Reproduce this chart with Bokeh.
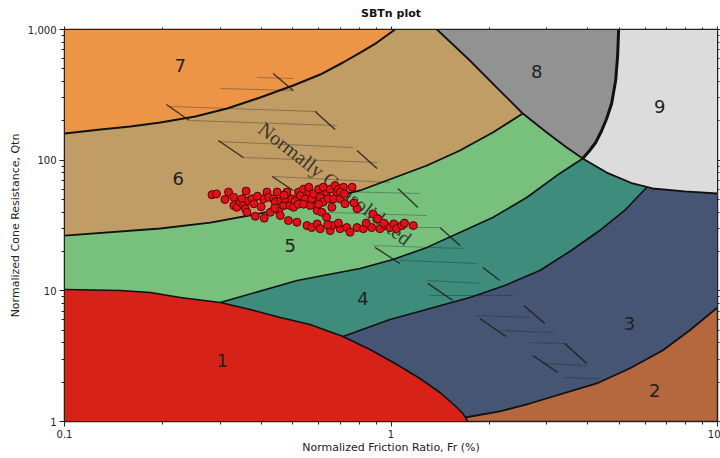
from bokeh.plotting import figure
from bokeh.models import LogAxis, NumeralTickFormatter, FixedTicker, CustomJSTickFormatter
from bokeh.core.properties import value
from bokeh.embed import file_html
from bokeh.resources import INLINE

# ---------------- data ----------------
# zone boundary curves (Fr %, Qtn)
b67_fr = [0.1, 0.129, 0.1591, 0.1966, 0.2515, 0.315, 0.3976, 0.5017, 0.607, 0.713, 0.815, 0.906, 1.029]
b67_q = [160, 171.7, 181, 194, 215.9, 248.6, 301.6, 372.7, 452.3, 559, 678.4, 795, 1000]

b56_fr = [0.1, 0.1966, 0.2796, 0.3976, 0.565, 0.804, 1.289, 1.626, 2.05, 2.533]
b56_q = [26.5, 30.0, 33.3, 39.1, 46.6, 58.6, 91.0, 118.6, 162.8, 227.6]

b68_fr = [1.383, 1.744, 2.109, 2.533]
b68_q = [1000, 579, 359.7, 227.6]

b58_fr = [2.533, 3.0, 3.453, 3.866]
b58_q = [227.6, 162.8, 125, 103]

b89_fr = [4.98, 4.945, 4.876, 4.74, 4.577, 4.42, 4.236, 4.06, 3.866]
b89_q = [1000, 632, 407, 271.4, 208.3, 168.7, 136.5, 118.6, 103]

b9_fr = [3.866, 4.577, 5.498, 6.327, 7.93, 10]
b9_q = [103, 80.4, 66.3, 60.7, 57.6, 55.6]

b45_fr = [0.300, 0.516, 0.804, 1.014, 1.289, 2.05, 2.605, 3.287, 3.866]
b45_q = [8.14, 12.0, 14.83, 17.37, 21.5, 36.4, 51.8, 79.1, 103]

b34_fr = [0.713, 0.993, 1.316, 1.744, 2.232, 2.856, 3.527, 4.356, 5.195, 6.065]
b34_q = [4.47, 6.03, 7.32, 8.89, 10.98, 14.3, 20.0, 28.95, 41.2, 61.8]

b23_fr = [1.684, 2.154, 2.661, 4.266, 5.38, 6.788, 8.21, 10]
b23_q = [1.073, 1.193, 1.373, 1.954, 2.544, 3.494, 4.97, 7.455]

b1_fr = [0.1, 0.1483, 0.1832, 0.2263, 0.300, 0.3704, 0.4577, 0.565, 0.713, 0.8626, 1.043,
         1.227, 1.412, 1.569, 1.66, 1.72]
b1_q = [10.24, 10.06, 9.71, 8.89, 8.14, 7.195, 6.25, 5.525, 4.47, 3.556, 2.731,
        2.134, 1.667, 1.326, 1.151, 1.0]

zone_colors = {
    1: "#d7221a", 2: "#b5673d", 3: "#465574", 4: "#3d8c7c", 5: "#77c17d",
    6: "#c09d65", 7: "#ec9546", 8: "#929292", 9: "#dcdcdc",
}

zone_names = ["1", "2", "3", "4", "5", "6", "7", "8", "9"]
zone_lab_fr = [0.304, 6.42, 5.38, 0.821, 0.491, 0.2232, 0.2263, 2.796, 6.65]
zone_lab_q = [2.93, 1.73, 5.62, 8.74, 22.2, 72.4, 530, 477, 257]

# CPT data points
fr_pts = [0.283, 0.292, 0.318, 0.360, 0.330, 0.337, 0.345, 0.350, 0.354, 0.358,
          0.366, 0.375, 0.380, 0.362, 0.384, 0.409, 0.407, 0.417, 0.422, 0.427,
          0.437, 0.442, 0.448, 0.453, 0.458, 0.460, 0.469, 0.474, 0.480, 0.485,
          0.491, 0.497, 0.503, 0.509, 0.515, 0.521, 0.527, 0.540, 0.546, 0.559,
          0.565, 0.572, 0.580, 0.594, 0.600, 0.607, 0.614, 0.620, 0.635, 0.635,
          0.643, 0.651, 0.659, 0.667, 0.674, 0.682, 0.690, 0.698, 0.715, 0.723,
          0.553, 0.572, 0.594, 0.607, 0.651, 0.659, 0.698, 0.732, 0.749, 0.787,
          0.787, 0.823, 0.873, 0.880, 0.910, 0.925, 0.960, 0.993, 1.020, 1.040,
          1.080, 1.170, 0.520, 0.560, 0.620, 0.700, 0.400, 0.390, 0.310, 0.330,
          0.470, 0.540, 0.440, 0.760, 0.720, 0.690, 0.840, 0.950, 1.100, 0.640,
          0.770, 0.600]
qtn_pts = [54.4, 55.2, 57.0, 58.0, 45.0, 43.6, 47.8, 50.6, 45.0, 42.5,
           49.0, 50.6, 46.4, 39.9, 37.2, 36.0, 50.6, 57.0, 52.0, 39.9,
           50.6, 47.8, 57.0, 41.2, 37.7, 49.0, 45.0, 50.6, 57.0, 34.5,
           45.0, 50.6, 43.6, 49.0, 33.5, 57.0, 53.6, 60.0, 50.6, 57.0,
           45.0, 50.6, 55.3, 41.2, 60.0, 52.0, 39.9, 47.8, 36.5, 57.0,
           50.6, 60.0, 43.6, 50.6, 64.0, 57.0, 60.0, 50.6, 62.0, 46.4,
           31.6, 30.5, 32.5, 29.9, 28.9, 31.6, 29.9, 30.5, 28.1, 30.5,
           42.5, 29.9, 30.5, 38.8, 35.6, 29.9, 31.6, 30.5, 32.5, 29.9,
           31.6, 31.6, 46.0, 62.0, 62.0, 57.0, 44.0, 53.0, 50.0, 52.0,
           54.0, 46.0, 43.0, 62.0, 55.0, 33.0, 33.0, 33.0, 33.0, 32.0,
           47.0, 46.0]

# "Normally consolidated" hatch annotation
hd_x0 = [0.4357, 0.2051, 0.5855, 0.2958, 0.787, 0.4327, 1.050, 1.412, 0.8935, 1.911, 1.297, 1.872, 2.551, 2.719, 3.405]
hd_y0 = [460.5, 266.7, 235.7, 141.4, 118.6, 75.0, 60.7, 30.5, 21.5, 15.1, 11.4, 6.14, 7.72, 3.20, 3.95]
hd_x1 = [0.5017, 0.2412, 0.6742, 0.3527, 0.906, 0.5017, 1.209, 1.626, 1.065, 2.154, 1.547, 2.247, 2.958, 3.241, 3.976]
hd_y1 = [341.3, 201.1, 171.7, 104.8, 86.4, 58.6, 43.4, 22.2, 16.2, 12.0, 8.43, 4.47, 5.62, 2.37, 2.78]

hh_x0 = [0.3893, 0.300, 0.2110, 0.2428, 0.2958, 0.3527, 0.4357, 0.5017, 0.6374, 0.804, 0.881, 1.065, 1.289, 1.316, 1.807, 2.154, 2.661, 2.916, 3.357]
hh_y0 = [429, 353.5, 257.4, 201.1, 138.9, 104.8, 75.0, 58.6, 39.8, 30.5, 22.2, 17.1, 12.0, 9.21, 6.48, 4.97, 4.02, 2.78, 2.17]
hh_x1 = [0.5017, 0.5017, 0.5938, 0.6839, 0.7652, 0.906, 0.993, 1.227, 1.289, 1.412, 1.66, 1.832, 1.872, 2.361, 2.661, 3.13, 3.453, 3.976, 4.356]
hh_y1 = [421.7, 341.3, 235.7, 184.2, 125, 95.96, 67.5, 55.6, 37.7, 30.5, 21.1, 16.2, 11.4, 9.21, 6.25, 4.80, 3.95, 2.68, 2.13]

nc_label = "Normally Consolidated"
nc_fr = [0.674]
nc_q = [66.3]

# axis ticks
x_major = [0.1, 1, 10]
y_major = [1, 10, 100, 1000]
mantissas = [2, 3, 4, 5, 6, 7, 8, 9]

X0, X1 = 0.1, 10
Y0, Y1 = 1, 1000

x_minor = [m * d for d in x_major[:-1] for m in mantissas]
y_minor = [m * d for d in y_major[:-1] for m in mantissas]

# ---------------- figure ----------------
p = figure(width=720, height=458, x_axis_type="log", y_axis_type="log",
           x_range=(X0, X1), y_range=(Y0, Y1),
           output_backend="svg", toolbar_location=None,
           min_border_left=64, min_border_right=2, min_border_top=29, min_border_bottom=37)

p.title.text = "SBTn plot"
p.title.align = "center"
p.title.vertical_align = "top"
p.title.text_font = "DejaVu Sans"
p.title.text_font_size = "11px"
p.title.text_font_style = "bold"
p.title.text_color = "#111111"
p.title.standoff = 9

p.background_fill_color = zone_colors[2]
p.border_fill_color = "white"
p.outline_line_color = "#222222"
p.outline_line_width = 1.5
p.xgrid.visible = False
p.ygrid.visible = False

def patch(xs, ys, color):
    p.patch(xs, ys, fill_color=color, line_color=None)

# zone 3 (everything above 2/3 boundary)
patch([b23_fr[0]] + b23_fr + [X1, X0, X0], [Y0] + b23_q + [Y1, Y1, Y0], zone_colors[3])
# zone 4
patch([X0] + b34_fr + [X1, X1, X0], [Y0] + b34_q + [b34_q[-1], Y1, Y1], zone_colors[4])
# zone 5
patch([X0] + b45_fr + [X1, X1, X0], [Y0] + b45_q + [b45_q[-1], Y1, Y1], zone_colors[5])
# zone 6
top_mid = (b68_fr[0] * b89_fr[0]) ** 0.5
patch(b56_fr + [top_mid, X0], b56_q + [Y1, Y1], zone_colors[6])
# zone 7
patch(b67_fr + [X0], b67_q + [Y1], zone_colors[7])
# zone 8
patch(b68_fr + b58_fr[1:] + b89_fr[::-1][1:], b68_q + b58_q[1:] + b89_q[::-1][1:], zone_colors[8])
# zone 9
patch(b89_fr + b9_fr[1:] + [X1], b89_q + b9_q[1:] + [Y1], zone_colors[9])
# zone 1
patch(b1_fr + [X0], b1_q + [Y0], zone_colors[1])

# hatch annotation
p.segment(hh_x0, hh_y0, hh_x1, hh_y1, line_color="#222222", line_alpha=0.35, line_width=1)
p.segment(hd_x0, hd_y0, hd_x1, hd_y1, line_color="#1a1a1a", line_alpha=0.85, line_width=1.3)
p.text(nc_fr, nc_q, text=[nc_label], angle=-0.66, text_font=value("Liberation Serif"),
       text_font_size="20px", text_align="center", text_baseline="middle",
       text_color="#222222", text_alpha=0.85)

# boundary lines
for bx, by, lw in [(b67_fr, b67_q, 2), (b56_fr, b56_q, 1.8), (b45_fr, b45_q, 1.6),
                   (b34_fr, b34_q, 1.6), (b23_fr, b23_q, 1.8), (b68_fr, b68_q, 1.8),
                   (b58_fr, b58_q, 1.8), (b89_fr, b89_q, 3), (b9_fr, b9_q, 1.8),
                   (b1_fr, b1_q, 1.6)]:
    p.line(bx, by, line_color="#111111", line_width=lw, line_join="round")

# zone numbers
p.text(zone_lab_fr, zone_lab_q, text=zone_names, text_font=value("DejaVu Sans"),
       text_font_size="18px", text_align="center", text_baseline="middle", text_color="#222222")

# data points
p.scatter(fr_pts, qtn_pts, size=8, fill_color="#e3101a", line_color="#5a0000", line_width=1)

# axes
xt = FixedTicker(ticks=x_major, minor_ticks=x_minor)
yt = FixedTicker(ticks=y_major, minor_ticks=y_minor)
p.xaxis.ticker = xt
p.yaxis.ticker = yt
for ax in (p.xaxis[0], p.yaxis[0]):
    ax.major_label_text_font = "DejaVu Sans"
    ax.major_label_text_font_size = "10px"
    ax.major_label_text_color = "#222222"
    ax.axis_label_text_font = "DejaVu Sans"
    ax.axis_label_text_font_size = "11px"
    ax.axis_label_text_font_style = "normal"
    ax.axis_label_text_color = "#222222"
    ax.axis_line_color = "#222222"
    ax.major_tick_line_color = "#222222"
    ax.minor_tick_line_color = "#222222"
    ax.major_tick_in = 0
    ax.major_tick_out = 5
    ax.minor_tick_in = 0
    ax.minor_tick_out = 3
    ax.major_label_standoff = 3
    ax.axis_label_standoff = 3

p.xaxis.axis_label_standoff = 0
p.xaxis.axis_label = "Normalized Friction Ratio, Fr (%)"
p.yaxis.axis_label = "Normalized Cone Resistance, Qtn"
p.yaxis.formatter = NumeralTickFormatter(format="0,0")
p.xaxis.formatter = NumeralTickFormatter(format="0[.][0]")

blank = CustomJSTickFormatter(code="return ''")
for loc, tk in (("above", xt), ("right", yt)):
    a = LogAxis(ticker=tk, formatter=blank, major_label_text_font_size="1px",
                major_label_text_color=None, major_label_standoff=0,
                major_tick_in=0, major_tick_out=3, minor_tick_in=0, minor_tick_out=2,
                axis_line_color="#222222", major_tick_line_color="#222222",
                minor_tick_line_color="#222222")
    p.add_layout(a, loc)

open("out.html", "w").write(file_html(p, INLINE))
